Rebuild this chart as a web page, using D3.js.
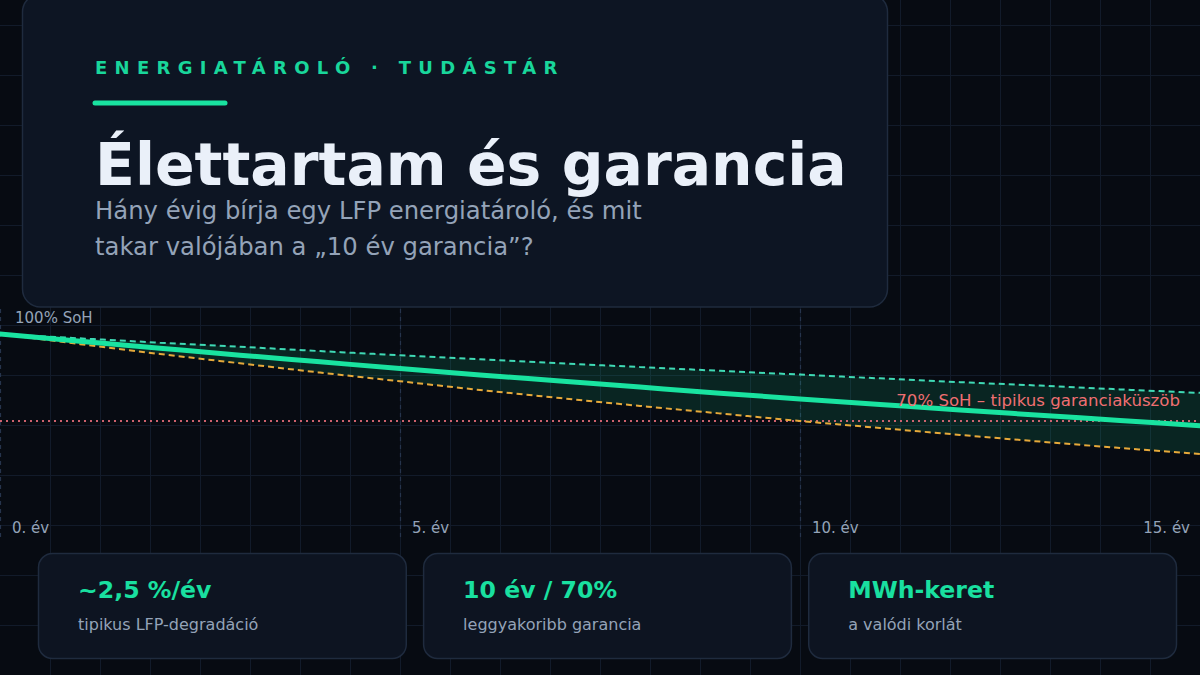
<!DOCTYPE html>
<html>
<head>
<meta charset="utf-8">
<script src="https://cdn.jsdelivr.net/npm/d3@7"></script>
<style>
  html, body { margin: 0; padding: 0; background: #070b12; }
  svg { display: block; }
  text { font-family: "DejaVu Sans", sans-serif; }
</style>
</head>
<body>
<svg id="chart" width="1200" height="675"></svg>
<script>
// ---- data ----
const years = [0,1,2,3,4,5,6,7,8,9,10,11,12,13,14,15];
const sohTypical = [100,97.5,95.1,92.7,90.4,88.1,85.9,83.8,81.7,79.6,77.6,75.7,73.8,72.0,70.2,68.4];
const sohBest    = [100,98.5,97.0,95.6,94.1,92.7,91.3,89.9,88.6,87.3,86.0,84.7,83.4,82.2,80.9,79.7];
const sohWorst   = [100,96.5,93.1,89.9,86.7,83.7,80.7,77.9,75.2,72.6,70.0,67.6,65.2,62.9,60.7,58.6];
const warrantyThreshold = 70;
const yearTicks = [0,5,10,15];
const yearTickLabels = ["0. év","5. év","10. év","15. év"];
const topLabel = "100% SoH";
const thresholdLabel = "70% SoH – tipikus garanciaküszöb";
const kicker = "ENERGIATÁROLÓ · TUDÁSTÁR";
const title = "Élettartam és garancia";
const subtitleLines = ["Hány évig bírja egy LFP energiatároló, és mit", "takar valójában a „10 év garancia”?"];
const statValues = ["~2,5 %/év", "10 év / 70%", "MWh-keret"];
const statLabels = ["tipikus LFP-degradáció", "leggyakoribb garancia", "a valódi korlát"];

// ---- setup ----
const W = 1200, H = 675;
const svg = d3.select("#chart");
const green = "#19e3a0";

svg.append("rect").attr("width", W).attr("height", H).attr("fill", "#070b12");

// grid
const grid = svg.append("g").attr("stroke", "#121b2a").attr("stroke-width", 1);
grid.selectAll("line.v").data(d3.range(50, W, 50)).join("line")
  .attr("x1", d => d + 0.5).attr("x2", d => d + 0.5).attr("y1", 0).attr("y2", H);
grid.selectAll("line.h").data(d3.range(25, H, 50)).join("line")
  .attr("y1", d => d + 0.5).attr("y2", d => d + 0.5).attr("x1", 0).attr("x2", W);

// scales
const x = d3.scaleLinear().domain([0, 15]).range([0, 1200]);
const y = d3.scaleLinear().domain([70, 100]).range([421, 334]);

// year marker dashed verticals
svg.append("g").selectAll("line").data(yearTicks.slice(0, 3)).join("line")
  .attr("x1", d => x(d) + 0.5).attr("x2", d => x(d) + 0.5)
  .attr("y1", 309).attr("y2", 541)
  .attr("stroke", "#26344c").attr("stroke-width", 1.2).attr("stroke-dasharray", "4,4");

// band
const pts = years.map((yr, i) => ({ yr, t: sohTypical[i], b: sohBest[i], w: sohWorst[i] }));
const area = d3.area().x(d => x(d.yr)).y0(d => y(d.w)).y1(d => y(d.b)).curve(d3.curveMonotoneX);
svg.append("path").datum(pts).attr("d", area).attr("fill", green).attr("fill-opacity", 0.12);

// threshold
svg.append("line").attr("x1", 0).attr("x2", W).attr("y1", y(warrantyThreshold)).attr("y2", y(warrantyThreshold))
  .attr("stroke", "#f0707e").attr("stroke-width", 2).attr("stroke-dasharray", "2,4").attr("opacity", 0.85);

// lines
const line = key => d3.line().x(d => x(d.yr)).y(d => y(d[key])).curve(d3.curveMonotoneX);
svg.append("path").datum(pts).attr("d", line("b")).attr("fill", "none")
  .attr("stroke", "#3fd9b4").attr("stroke-width", 2).attr("stroke-dasharray", "6,4");
svg.append("path").datum(pts).attr("d", line("w")).attr("fill", "none")
  .attr("stroke", "#e6a93a").attr("stroke-width", 2).attr("stroke-dasharray", "6,4");
svg.append("path").datum(pts).attr("d", line("t")).attr("fill", "none")
  .attr("stroke", green).attr("stroke-width", 5).attr("stroke-linecap", "round");

// threshold label
svg.append("text").attr("x", 1180).attr("y", 406).attr("text-anchor", "end")
  .attr("font-size", 16.6).attr("fill", "#ef6f72").text(thresholdLabel);

// top label
svg.append("text").attr("x", 15).attr("y", 323).attr("font-size", 15).attr("fill", "#94a3b8").text(topLabel);

// x tick labels
svg.append("g").selectAll("text").data(yearTicks).join("text")
  .attr("x", (d, i) => i === yearTicks.length - 1 ? x(d) - 10 : x(d) + 12)
  .attr("y", 533)
  .attr("text-anchor", (d, i) => i === yearTicks.length - 1 ? "end" : "start")
  .attr("font-size", 15).attr("fill", "#94a3b8")
  .text((d, i) => yearTickLabels[i]);

// header card
svg.append("rect").attr("x", 22.5).attr("y", -6).attr("width", 865).attr("height", 313).attr("rx", 18)
  .attr("fill", "#0d1523").attr("stroke", "#1f2b3e").attr("stroke-width", 1.5);

svg.append("text").attr("x", 95).attr("y", 74).attr("font-size", 18).attr("font-weight", "bold")
  .attr("letter-spacing", 7.3).attr("fill", "#19d69b").text(kicker);
svg.append("line").attr("x1", 95).attr("x2", 225).attr("y1", 103).attr("y2", 103)
  .attr("stroke", green).attr("stroke-width", 5).attr("stroke-linecap", "round");
svg.append("text").attr("x", 95).attr("y", 185).attr("font-size", 58.4).attr("font-weight", "bold")
  .attr("fill", "#eaf0f9").text(title);
svg.append("g").selectAll("text").data(subtitleLines).join("text")
  .attr("x", 95).attr("y", (d, i) => 219 + i * 36)
  .attr("font-size", 24.3).attr("fill", "#94a3b8").text(d => d);

// stat cards
const cardX = d3.scaleBand().domain(d3.range(statValues.length)).range([38, 1176]).paddingInner(0.045);
const cards = svg.append("g").selectAll("g").data(statValues).join("g")
  .attr("transform", (d, i) => `translate(${cardX(i)},553)`);
cards.append("rect").attr("x", 0.5).attr("y", 0.5).attr("width", cardX.bandwidth()).attr("height", 105).attr("rx", 14)
  .attr("fill", "#0d1421").attr("stroke", "#1f2b3e").attr("stroke-width", 1.5);
cards.append("text").attr("x", 40).attr("y", 44.5).attr("font-size", 23.6).attr("font-weight", "bold")
  .attr("fill", "#19e0a0").text(d => d);
cards.append("text").attr("x", 40).attr("y", 77).attr("font-size", 16)
  .attr("fill", "#94a3b8").text((d, i) => statLabels[i]);
</script>
</body>
</html>
